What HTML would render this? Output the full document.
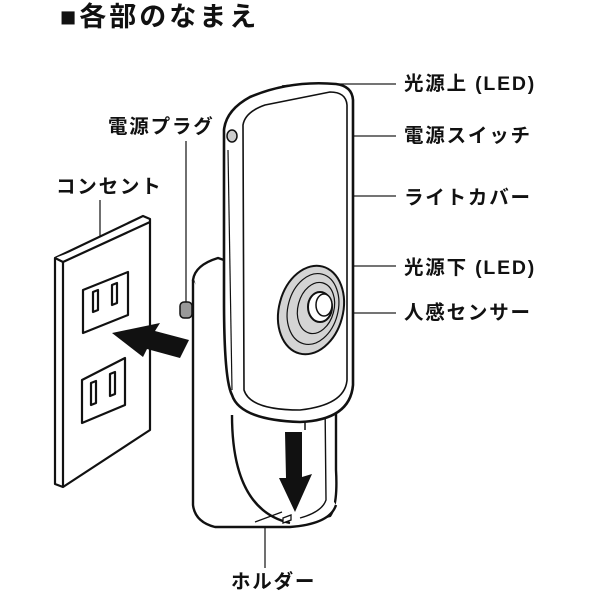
<!DOCTYPE html>
<html><head><meta charset="utf-8"><style>
html,body{margin:0;padding:0;background:#fff}
svg{display:block}
text{font-family:"Liberation Sans","Noto Sans CJK JP",sans-serif;fill:#111}
</style></head><body>
<svg width="600" height="600" viewBox="0 0 600 600" xmlns="http://www.w3.org/2000/svg">
<text x="60" y="26" font-size="27" font-weight="bold" letter-spacing="3">■各部のなまえ</text>

<!-- labels -->
<g font-size="19.5" font-weight="bold" letter-spacing="1.8">
<text x="404" y="90">光源上 (LED)</text>
<text x="404" y="142">電源スイッチ</text>
<text x="404" y="204">ライトカバー</text>
<text x="404" y="274">光源下 (LED)</text>
<text x="404" y="319">人感センサー</text>
<text x="108" y="133">電源プラグ</text>
<text x="56" y="193">コンセント</text>
<text x="231" y="588">ホルダー</text>
</g>
<g stroke="#222" stroke-width="1.3" fill="none">
<line x1="300" y1="84" x2="396" y2="84"/>
<line x1="236" y1="136" x2="396" y2="136"/>
<line x1="337" y1="196" x2="396" y2="196"/>
<line x1="338" y1="266" x2="396" y2="266"/>
<line x1="330" y1="313" x2="396" y2="313"/>
<line x1="186" y1="141" x2="186" y2="310"/>
<line x1="100" y1="200" x2="100" y2="265"/>
<line x1="265" y1="512" x2="265" y2="568"/>
</g>

<!-- outlet plate -->
<g stroke="#111" stroke-width="2.2" fill="#fff" stroke-linejoin="round">
<path d="M55,258 L143,216 L150,219 L150,430 L63,487 L55,484 Z"/>
<path d="M55,258 L63,262 L150,222"/>
<line x1="63" y1="262" x2="63" y2="487"/>
<path d="M83,290 L128,272 L128,315 L83,333 Z"/>
<path d="M93,292 l5,-2 v20 l-5,2 Z"/>
<path d="M112,285 l5,-2 v20 l-5,2 Z"/>
<path d="M82,380 L125,358 L125,405 L82,423 Z"/>
<path d="M91,383 l5,-2 v22 l-5,2 Z"/>
<path d="M110,374 l5,-2 v22 l-5,2 Z"/>
</g>
<path d="M112,333 L160,323 L155,331 L189,340 L180,358 L147,349 L143,357 Z" fill="#111"/>

<rect x="180" y="302" width="12" height="16" rx="4" fill="#999" stroke="#111" stroke-width="1.5"/>

<!-- holder -->
<g stroke="#111" stroke-width="2.4" fill="#fff" stroke-linejoin="round">
<path d="M193,280 Q195,265 218,258 L230,262 L232,420 Q240,510 290,525 L330,516 Q338,505 336,470 L336,395 L300,420 L232,400 Z"/>
<path d="M193,280 L193,505 Q195,522 215,527 L290,527 Q330,524 336,505"/>
<path d="M232,415 Q232,510 290,523"/>
<path d="M325,400 L326,500 Q322,512 300,518" fill="none" stroke-width="1.4"/>
</g>
<line x1="305" y1="418" x2="305" y2="430" stroke="#111" stroke-width="1.5"/>
<line x1="255" y1="522" x2="282" y2="512" stroke="#111" stroke-width="1.2"/>
<path d="M283,518 l8,-3 l0,5 l-8,3 Z" fill="#fff" stroke="#111" stroke-width="1.3"/>
<path d="M285,432 L302,432 L302,477 L312,474 L295,512 L279,478 L286,478 Z" fill="#111"/>

<!-- main body -->
<g stroke="#111" stroke-width="2.6" fill="#fff" stroke-linejoin="round">
<path d="M224,130 Q226,110 250,97 Q290,80 336,84 Q352,86 353,100 L353,385 Q350,420 300,422 Q240,420 232,395 Q224,380 224,300 Z"/>
<path d="M243,125 Q245,112 265,105 L330,92 Q346,92 347,105 L347,380 Q345,405 300,410 Q250,410 244,390 Z" stroke-width="1.6"/>
</g>
<path d="M228,150 L232,390" stroke="#111" stroke-width="1.2" fill="none"/>
<ellipse cx="232" cy="136" rx="5" ry="6" fill="#ccc" stroke="#111" stroke-width="1.5"/>
<path d="M282,86 L305,84" stroke="#111" stroke-width="1.5"/>
<!-- sensor -->
<ellipse cx="311" cy="310" rx="32" ry="45" fill="#d4d4d4" stroke="#111" stroke-width="2" transform="rotate(15 311 310)"/>
<ellipse cx="313" cy="309" rx="25" ry="36" fill="none" stroke="#111" stroke-width="1.2" transform="rotate(15 313 309)"/>
<ellipse cx="316" cy="308" rx="18" ry="26" fill="none" stroke="#111" stroke-width="1.2" transform="rotate(15 316 308)"/>
<ellipse cx="320" cy="307" rx="12" ry="15" fill="#fff" stroke="#111" stroke-width="2"/>
<ellipse cx="324" cy="305" rx="8" ry="11" fill="#fff" stroke="#111" stroke-width="1.5"/>
</svg>
</body></html>
